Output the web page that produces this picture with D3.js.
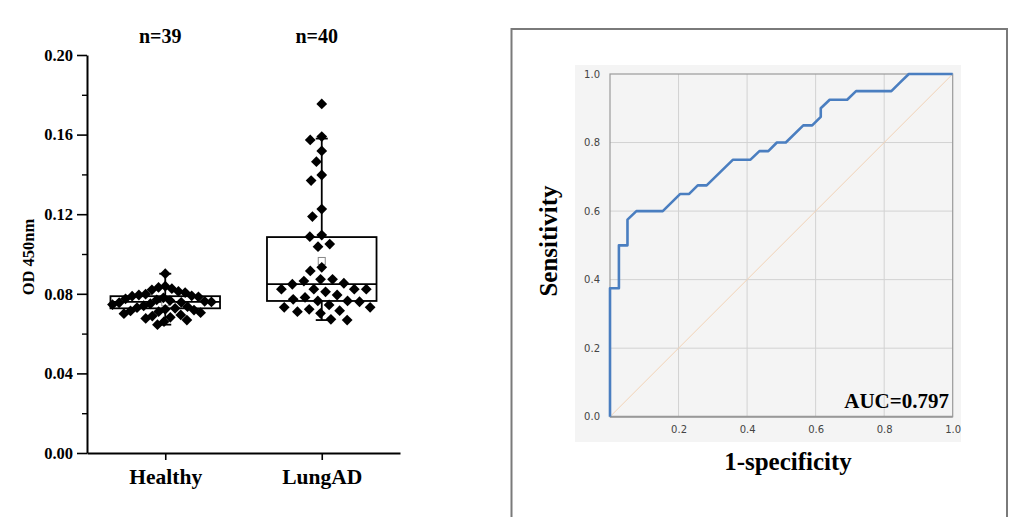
<!DOCTYPE html>
<html>
<head>
<meta charset="utf-8">
<script src="https://cdn.jsdelivr.net/npm/d3@7/dist/d3.min.js"></script>
<style>
  html, body { margin: 0; padding: 0; background: #fff; }
  svg { display: block; }
</style>
</head>
<body>
<svg id="chart" width="1025" height="517"></svg>
<script>
// ---------------- DATA ----------------
const categories = ["Healthy", "LungAD"];
const sampleSizes = ["n=39", "n=40"];

const healthyValues = [
  0.0901,
  0.0838, 0.0832, 0.0826, 0.0820, 0.0812, 0.0806,
  0.0798, 0.0794, 0.0790, 0.0788, 0.0785, 0.0780,
  0.0775, 0.0770, 0.0766, 0.0762, 0.0759, 0.0757,
  0.0755, 0.0750, 0.0746, 0.0740, 0.0735, 0.0730, 0.0727,
  0.0722, 0.0718, 0.0714, 0.0710, 0.0705,
  0.0700, 0.0694, 0.0688, 0.0682,
  0.0676, 0.0668, 0.0660, 0.0645
];

const lungADValues = [
  0.1754, 0.1590, 0.1573, 0.1518, 0.1464, 0.1397, 0.1369, 0.1226, 0.1188,
  0.1095, 0.1087, 0.1050, 0.1037,
  0.0933, 0.0915, 0.0873, 0.0873, 0.0864, 0.0853, 0.0848,
  0.0823, 0.0823, 0.0823, 0.0823, 0.0810,
  0.0794, 0.0782, 0.0772, 0.0764, 0.0764, 0.0760, 0.0744, 0.0732, 0.0732, 0.0722,
  0.0715, 0.0710, 0.0702, 0.0672, 0.0668
];

const boxQ1 = [0.0727, 0.0764];
const boxMedian = [0.0759, 0.0849];
const boxQ3 = [0.0788, 0.1085];
const whiskerLow = [0.0645, 0.0668];
const whiskerHigh = [0.0901, 0.1580];
const boxMean = [0.0757, 0.0965];

const yTicks = [0.00, 0.04, 0.08, 0.12, 0.16, 0.20];
const yMinorTicks = [0.02, 0.06, 0.10, 0.14, 0.18];
const yAxisLabel = "OD 450nm";

// ROC curve
const rocFpr = [0, 0, 0.026, 0.026, 0.051, 0.051, 0.077, 0.154, 0.205, 0.231, 0.256, 0.282,
  0.359, 0.410, 0.436, 0.462, 0.487, 0.513, 0.564, 0.590, 0.615, 0.615, 0.641, 0.692,
  0.718, 0.821, 0.846, 0.872, 1.0];
const rocTpr = [0, 0.375, 0.375, 0.5, 0.5, 0.575, 0.6, 0.6, 0.65, 0.65, 0.675, 0.675,
  0.75, 0.75, 0.775, 0.775, 0.8, 0.8, 0.85, 0.85, 0.875, 0.9, 0.925, 0.925,
  0.95, 0.95, 0.975, 1.0, 1.0];
const rocYTicks = [0.0, 0.2, 0.4, 0.6, 0.8, 1.0];
const rocXTicks = [0.2, 0.4, 0.6, 0.8, 1.0];
const rocGrid = [0.2, 0.4, 0.6, 0.8];
const aucLabel = "AUC=0.797";
const rocXLabel = "1-specificity";
const rocYLabel = "Sensitivity";

// ---------------- LEFT CHART ----------------
const svg = d3.select("#chart");
const serif = "'Liberation Serif', 'Times New Roman', serif";

const y = d3.scaleLinear().domain([0, 0.2]).range([453, 55]);
const x = d3.scalePoint().domain(categories).range([87, 400]).padding(0.5);

const left = svg.append("g");

// y axis major
const yAxis = left.append("g")
  .attr("transform", "translate(87,0)")
  .call(d3.axisLeft(y).tickValues(yTicks).tickFormat(d3.format(".2f")).tickSize(10).tickSizeOuter(0));
yAxis.select(".domain").attr("stroke", "#000").attr("stroke-width", 2);
yAxis.selectAll(".tick line").attr("stroke", "#000").attr("stroke-width", 1.6);
yAxis.selectAll(".tick text").attr("font-family", serif).attr("font-weight", "bold")
  .attr("font-size", 16.5).attr("fill", "#000").attr("x", -14);

// y axis minor
const yMinor = left.append("g")
  .attr("transform", "translate(87,0)")
  .call(d3.axisLeft(y).tickValues(yMinorTicks).tickFormat("").tickSize(5).tickSizeOuter(0));
yMinor.select(".domain").remove();
yMinor.selectAll(".tick line").attr("stroke", "#000").attr("stroke-width", 1.4);

// x axis
const xAxis = left.append("g")
  .attr("transform", "translate(0,453)")
  .call(d3.axisBottom(x).tickSize(7).tickSizeOuter(0));
xAxis.select(".domain").attr("stroke", "#000").attr("stroke-width", 2);
xAxis.selectAll(".tick line").attr("stroke", "#000").attr("stroke-width", 1.6);
xAxis.selectAll(".tick text").attr("font-family", serif).attr("font-weight", "bold")
  .attr("font-size", 21.5).attr("fill", "#000").attr("dy", 0).attr("y", 31);

// y label
left.append("text")
  .attr("transform", "translate(34,257) rotate(-90)")
  .attr("text-anchor", "middle")
  .attr("font-family", serif).attr("font-weight", "bold").attr("font-size", 16.5)
  .text(yAxisLabel);

// n labels
left.selectAll("text.nlab").data(categories).join("text")
  .attr("class", "nlab")
  .attr("x", d => x(d) - 5)
  .attr("y", 43)
  .attr("text-anchor", "middle")
  .attr("font-family", serif).attr("font-weight", "bold").attr("font-size", 20)
  .text((d, i) => sampleSizes[i]);

// boxes
const boxW = x.step() * 0.70;
const capW = 12;
categories.forEach((c, i) => {
  const cx = x(c);
  const g = left.append("g").attr("stroke", "#000").attr("fill", "none").attr("stroke-width", 1.8);
  g.append("line").attr("x1", cx).attr("x2", cx).attr("y1", y(boxQ3[i])).attr("y2", y(whiskerHigh[i]));
  g.append("line").attr("x1", cx).attr("x2", cx).attr("y1", y(boxQ1[i])).attr("y2", y(whiskerLow[i]));
  g.append("line").attr("x1", cx - capW / 2).attr("x2", cx + capW / 2).attr("y1", y(whiskerHigh[i])).attr("y2", y(whiskerHigh[i]));
  g.append("line").attr("x1", cx - capW / 2).attr("x2", cx + capW / 2).attr("y1", y(whiskerLow[i])).attr("y2", y(whiskerLow[i]));
  g.append("rect").attr("x", cx - boxW / 2).attr("width", boxW)
    .attr("y", y(boxQ3[i])).attr("height", y(boxQ1[i]) - y(boxQ3[i]));
  g.append("line").attr("x1", cx - boxW / 2).attr("x2", cx + boxW / 2)
    .attr("y1", y(boxMedian[i])).attr("y2", y(boxMedian[i]));
});

// mean markers (under the points)
categories.forEach((c, i) => {
  left.append("rect")
    .attr("x", x(c) - 3.5).attr("y", y(boxMean[i]) - 3.5)
    .attr("width", 7).attr("height", 7)
    .attr("fill", "#fff").attr("stroke", "#888").attr("stroke-width", 1);
});

// beeswarm layout
function beeswarm(values, r, maxHalf) {
  const placed = [];
  const order = values.map((v, i) => i).sort((a, b) => values[b] - values[a]);
  const offsets = new Array(values.length).fill(0);
  order.forEach(idx => {
    const py = y(values[idx]);
    const forb = [];
    placed.forEach(p => {
      const dy = Math.abs(p.y - py);
      if (dy < r) {
        const w = Math.sqrt(r * r - dy * dy);
        forb.push([p.x - w, p.x + w]);
      }
    });
    let cands = [0];
    forb.forEach(f => { cands.push(f[0]); cands.push(f[1]); });
    cands = cands.filter(cx => forb.every(f => cx <= f[0] + 1e-6 || cx >= f[1] - 1e-6));
    cands.sort((a, b) => Math.abs(a) - Math.abs(b) || a - b);
    const best = cands[0];
    offsets[idx] = best;
    placed.push({ x: best, y: py });
  });
  const m = d3.max(offsets, Math.abs);
  const k = m > maxHalf ? maxHalf / m : 1;
  return offsets.map(o => o * k);
}

const diamond = d3.symbol().type(d3.symbolSquare).size(58)();
const seriesList = [healthyValues, lungADValues];
seriesList.forEach((vals, i) => {
  const offs = beeswarm(vals, 12, boxW / 2 - 2);
  left.append("g").selectAll("path").data(vals).join("path")
    .attr("d", diamond)
    .attr("transform", (d, k) => `translate(${x(categories[i]) + offs[k]},${y(d)}) rotate(45)`)
    .attr("fill", "#000");
});

// ---------------- ROC CHART ----------------
const roc = svg.append("g");
roc.append("rect").attr("x", 511.5).attr("y", 29).attr("width", 495.5).attr("height", 520)
  .attr("fill", "#fff").attr("stroke", "#7a7a7a").attr("stroke-width", 2);
roc.append("rect").attr("x", 575).attr("y", 65).attr("width", 386).attr("height", 377)
  .attr("fill", "#f4f4f4");

const rx = d3.scaleLinear().domain([0, 1]).range([610, 952.7]);
const ry = d3.scaleLinear().domain([0, 1]).range([416.7, 74]);

// grid
roc.append("g").selectAll("line").data(rocGrid).join("line")
  .attr("x1", d => rx(d)).attr("x2", d => rx(d)).attr("y1", ry(0)).attr("y2", ry(1))
  .attr("stroke", "#d2d2d2").attr("stroke-width", 1);
roc.append("g").selectAll("line").data(rocGrid).join("line")
  .attr("y1", d => ry(d)).attr("y2", d => ry(d)).attr("x1", rx(0)).attr("x2", rx(1))
  .attr("stroke", "#d2d2d2").attr("stroke-width", 1);
// frame
roc.append("rect").attr("x", rx(0)).attr("y", ry(1)).attr("width", rx(1) - rx(0)).attr("height", ry(0) - ry(1))
  .attr("fill", "none").attr("stroke", "#9a9a9a").attr("stroke-width", 1.2);
roc.append("line").attr("x1", rx(0)).attr("x2", rx(1)).attr("y1", ry(0)).attr("y2", ry(0))
  .attr("stroke", "#999").attr("stroke-width", 2);

// ticks labels
const sans = "'DejaVu Sans', Verdana, sans-serif";
const ryAxis = roc.append("g").attr("transform", `translate(${rx(0)},0)`)
  .call(d3.axisLeft(ry).tickValues(rocYTicks).tickFormat(d3.format(".1f")).tickSize(0).tickPadding(10));
ryAxis.select(".domain").remove();
ryAxis.selectAll(".tick text").attr("font-family", sans).attr("font-size", 10).attr("fill", "#444");
const rxAxis = roc.append("g").attr("transform", `translate(0,${ry(0)})`)
  .call(d3.axisBottom(rx).tickValues(rocXTicks).tickFormat(d3.format(".1f")).tickSize(0).tickPadding(9));
rxAxis.select(".domain").remove();
rxAxis.selectAll(".tick text").attr("font-family", sans).attr("font-size", 10).attr("fill", "#444");

// diagonal
roc.append("line").attr("x1", rx(0)).attr("y1", ry(0)).attr("x2", rx(1)).attr("y2", ry(1))
  .attr("stroke", "#f2d2b6").attr("stroke-width", 1);

// curve
const rocPts = rocFpr.map((f, i) => [f, rocTpr[i]]);
roc.append("path").datum(rocPts)
  .attr("d", d3.line().x(d => rx(d[0])).y(d => ry(d[1])))
  .attr("fill", "none").attr("stroke", "#4a7ec0").attr("stroke-width", 2.6)
  .attr("stroke-linejoin", "round");

// labels
roc.append("text").attr("x", 949).attr("y", 408).attr("text-anchor", "end")
  .attr("font-family", serif).attr("font-weight", "bold").attr("font-size", 21).text(aucLabel);
roc.append("text").attr("x", 788).attr("y", 470).attr("text-anchor", "middle")
  .attr("font-family", serif).attr("font-weight", "bold").attr("font-size", 25).text(rocXLabel);
roc.append("text").attr("transform", "translate(557,241) rotate(-90)").attr("text-anchor", "middle")
  .attr("font-family", serif).attr("font-weight", "bold").attr("font-size", 25).text(rocYLabel);
</script>
</body>
</html>
